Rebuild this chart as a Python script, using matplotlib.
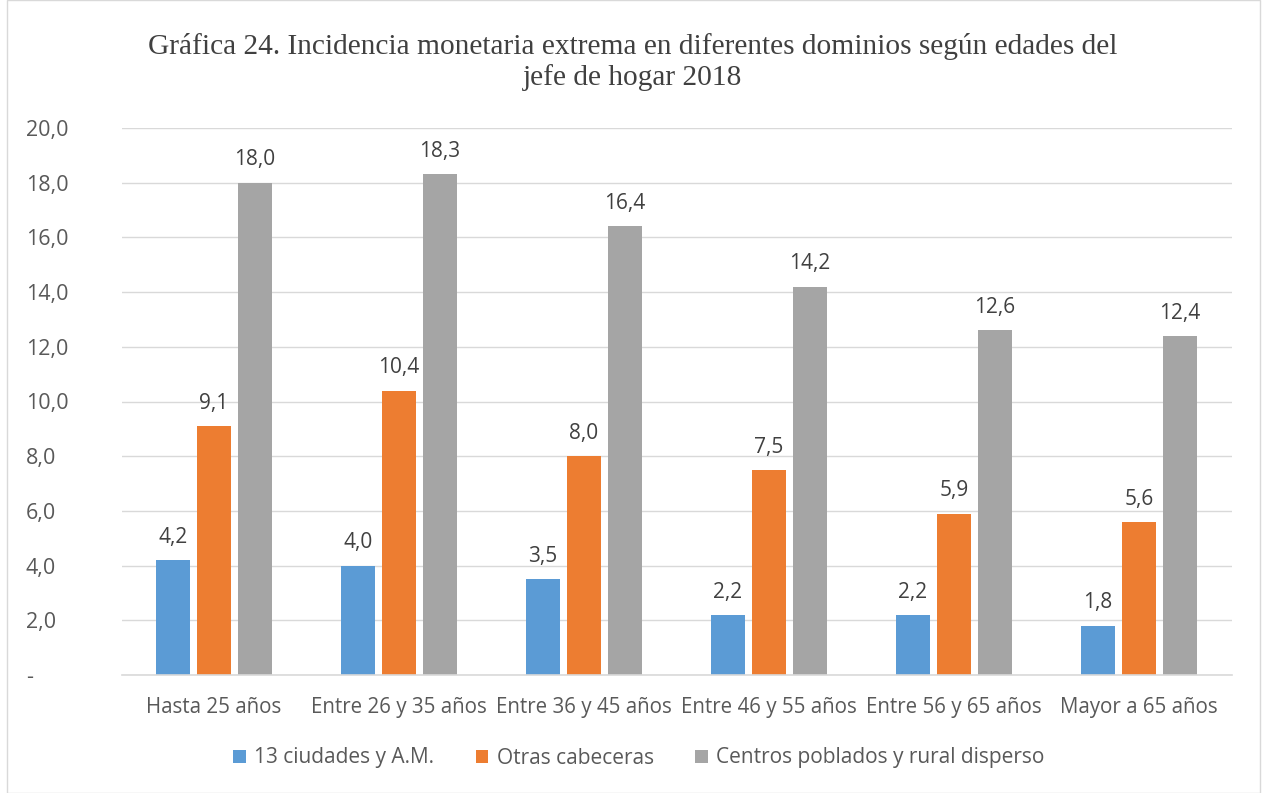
import matplotlib
matplotlib.use("Agg")
import matplotlib.pyplot as plt
import numpy as np
from matplotlib.patches import Rectangle

categories = ["Hasta 25 años", "Entre 26 y 35 años", "Entre 36 y 45 años",
              "Entre 46 y 55 años", "Entre 56 y 65 años", "Mayor a 65 años"]
series_names = ["13 ciudades y A.M.", "Otras cabeceras", "Centros poblados y rural disperso"]
ciudades = [4.2, 4.0, 3.5, 2.2, 2.2, 1.8]
cabeceras = [9.1, 10.4, 8.0, 7.5, 5.9, 5.6]
rural = [18.0, 18.3, 16.4, 14.2, 12.6, 12.4]
y_ticks = [0, 2, 4, 6, 8, 10, 12, 14, 16, 18, 20]
y_ticklabels = ["-", "2,0", "4,0", "6,0", "8,0", "10,0", "12,0", "14,0", "16,0", "18,0", "20,0"]
title = "Gráfica 24. Incidencia monetaria extrema en diferentes dominios según edades del\njefe de hogar 2018"

colors = ["#5B9BD5", "#ED7D31", "#A5A5A5"]
text_color = "#595959"
font = "Open Sans"

W, H = 1262, 793
fig = plt.figure(figsize=(W / 100, H / 100), dpi=100)
fig.patches.append(Rectangle((7 / W, 0.0), (1260 - 7) / W, 1.0, transform=fig.transFigure,
                             fill=False, edgecolor="#D9D9D9", linewidth=1.0))

left, right = 121.5, 1231.5
top, bottom = 128, 675
ax = fig.add_axes([left / W, 1 - bottom / H, (right - left) / W, (bottom - top) / H])

x = np.arange(len(categories))
width = 0.18
offset = 0.222
for i, (vals, c) in enumerate(zip([ciudades, cabeceras, rural], colors)):
    pos = x + (i - 1) * offset
    ax.bar(pos, vals, width=width, color=c, label=series_names[i], zorder=3)
    for p, v in zip(pos, vals):
        ax.text(p, v + 0.45, f"{v:.1f}".replace(".", ","), ha="center", va="bottom",
                fontsize=15, color="#404040", family=font)

ax.set_xlim(-0.5, len(categories) - 0.5)
ax.set_ylim(0, 20)
ax.set_yticks(y_ticks)
ax.set_yticklabels(y_ticklabels, family=font, fontsize=15.5, color=text_color)
ax.set_xticks(x)
ax.set_xticklabels(categories, family=font, fontsize=14.8, color=text_color)
ax.tick_params(axis="both", length=0)
ax.tick_params(axis="y", pad=69)
ax.tick_params(axis="x", pad=16)
for lab in ax.get_yticklabels():
    lab.set_horizontalalignment("left")
ax.grid(axis="y", color="#D9D9D9", linewidth=1.0, zorder=0)
for s in ["top", "right", "left"]:
    ax.spines[s].set_visible(False)
ax.spines["bottom"].set_color("#D9D9D9")
ax.spines["bottom"].set_linewidth(1.2)
ax.spines["bottom"].set_zorder(4)

fig.text(633 / W, 1 - 62 / H, title, ha="center", va="center", family="Liberation Serif",
         fontsize=21.2, color="#404040", linespacing=1.22)

leg = fig.legend(loc="center", bbox_to_anchor=(639 / W, 1 - 758 / H), ncol=3, frameon=False,
                 prop={"family": font, "size": 15}, handlelength=0.6, handleheight=0.6,
                 columnspacing=2.0, handletextpad=0.4)
for t in leg.get_texts():
    t.set_color(text_color)

fig.savefig("out.png", dpi=100)
